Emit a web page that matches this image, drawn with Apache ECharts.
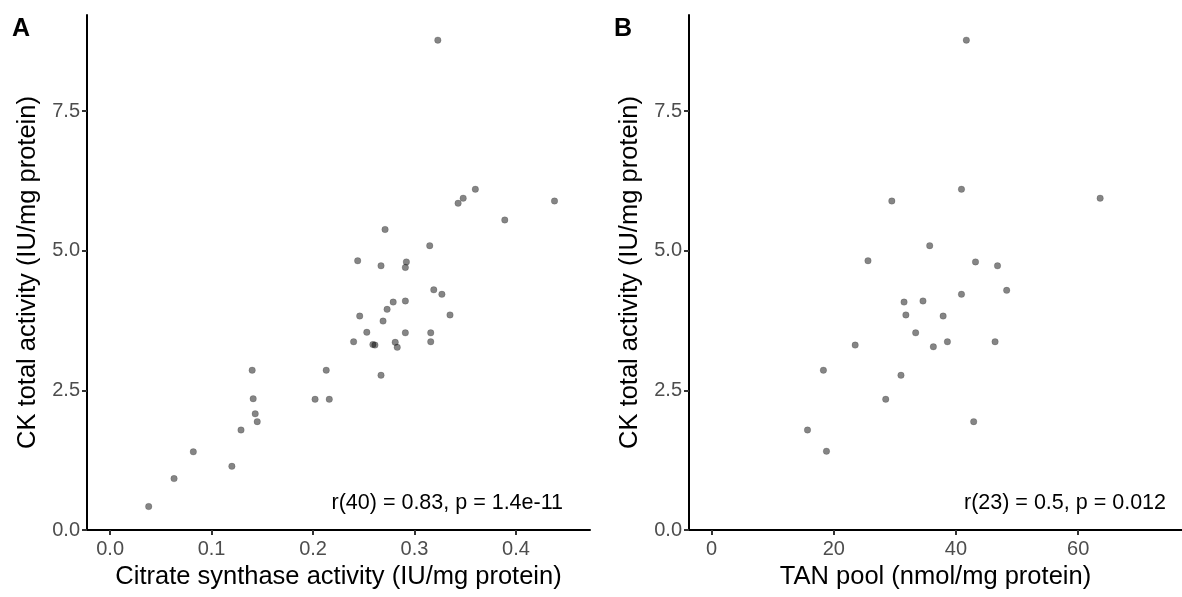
<!DOCTYPE html>
<html><head><meta charset="utf-8">
<script src="https://cdn.jsdelivr.net/npm/echarts@6/dist/echarts.min.js"></script>
<style>html,body{margin:0;padding:0;background:#fff}#c{width:1182px;height:597px}</style>
</head><body><div id="c"></div>
<script>
// Panel A: citrate synthase activity vs CK total activity
const csActivity = [0.038,0.063,0.082,0.120,0.129,0.140,0.141,0.143,0.145,0.202,0.213,0.216,0.267,0.360,0.348,0.343,0.438,0.389,0.271,0.315,0.244,0.267,0.292,0.291,0.319,0.327,0.279,0.291,0.273,0.246,0.335,0.269,0.253,0.291,0.316,0.240,0.259,0.261,0.281,0.283,0.316,0.323];
const ckA = [0.42,0.92,1.40,1.14,1.79,2.86,2.35,2.08,1.94,2.34,2.86,2.34,2.77,6.10,5.94,5.85,5.89,5.55,5.38,5.09,4.82,4.73,4.80,4.70,4.30,4.22,4.08,4.10,3.95,3.83,3.85,3.74,3.54,3.53,3.53,3.37,3.32,3.31,3.36,3.27,3.37,8.77];
// Panel B: TAN pool vs CK total activity
const tanPool = [41.7,40.9,29.5,63.6,35.7,25.6,43.2,46.8,48.3,40.9,31.5,34.6,31.8,37.9,33.4,23.5,36.3,38.6,46.4,18.3,31.0,28.5,42.9,15.7,18.8];
const ckB = [8.77,6.10,5.89,5.94,5.09,4.82,4.80,4.73,4.29,4.22,4.08,4.10,3.85,3.83,3.53,3.31,3.28,3.37,3.37,2.86,2.77,2.34,1.94,1.79,1.41];
// tick labels
const xTicksA = [0, 0.1, 0.2, 0.3, 0.4];
const xTicksB = [0, 20, 40, 60];
const yTicks = [0, 2.5, 5, 7.5];
const statA = 'r(40) = 0.83, p = 1.4e-11';
const statB = 'r(23) = 0.5, p = 0.012';

const FONT = '"Liberation Sans", Arial, Helvetica, sans-serif';
const chart = echarts.init(document.getElementById('c'), null, {renderer: 'canvas'});

function xAxisCfg(idx, min, max, ticks, name, fmt) {
  return {
    type: 'value', gridIndex: idx, min: min, max: max,
    name: name, nameLocation: 'middle', nameGap: 34,
    nameTextStyle: {color: '#000', fontSize: 25.5, fontFamily: FONT},
    axisLine: {show: true, onZero: false, lineStyle: {color: '#000', width: 2}},
    axisTick: {show: true, length: 5, customValues: ticks, lineStyle: {color: '#333', width: 2}},
    axisLabel: {customValues: ticks, color: '#4D4D4D', fontSize: 20, fontFamily: FONT, margin: 9, formatter: fmt},
    splitLine: {show: false}
  };
}
function yAxisCfg(idx) {
  return {
    type: 'value', gridIndex: idx, min: 0, max: 9.22,
    name: 'CK total activity (IU/mg protein)', nameLocation: 'middle', nameGap: 46,
    nameTextStyle: {color: '#000', fontSize: 25.5, fontFamily: FONT},
    axisLine: {show: true, onZero: false, lineStyle: {color: '#000', width: 2}},
    axisTick: {show: true, length: 5, customValues: yTicks, lineStyle: {color: '#333', width: 2}},
    axisLabel: {customValues: yTicks, color: '#4D4D4D', fontSize: 20, fontFamily: FONT, margin: 7,
      formatter: v => Number(v).toFixed(1)},
    splitLine: {show: false}
  };
}

const pointStyle = {color: 'rgba(0,0,0,0.6)', borderColor: 'rgba(0,0,0,0.25)', borderWidth: 0.8};

chart.setOption({
  animation: false,
  backgroundColor: '#fff',
  grid: [
    {left: 87, top: 15, width: 503, height: 515, containLabel: false},
    {left: 689, top: 15, width: 493, height: 515, containLabel: false}
  ],
  xAxis: [
    xAxisCfg(0, -0.0228, 0.473, xTicksA, 'Citrate synthase activity (IU/mg protein)', v => Number(v).toFixed(1)),
    xAxisCfg(1, -3.7, 77, xTicksB, 'TAN pool (nmol/mg protein)', v => String(Math.round(v)))
  ],
  yAxis: [yAxisCfg(0), yAxisCfg(1)],
  series: [
    {type: 'scatter', xAxisIndex: 0, yAxisIndex: 0, symbolSize: 6.5,
     itemStyle: pointStyle,
     data: csActivity.map((x, i) => [x, ckA[i]])},
    {type: 'scatter', xAxisIndex: 1, yAxisIndex: 1, symbolSize: 6.5,
     itemStyle: pointStyle,
     data: tanPool.map((x, i) => [x, ckB[i]])}
  ],
  graphic: [
    {type: 'text', left: 12, top: 17, style: {text: 'A', font: 'bold 25px ' + FONT, fill: '#000'}},
    {type: 'text', left: 614, top: 17, style: {text: 'B', font: 'bold 25px ' + FONT, fill: '#000'}},
    {type: 'text', right: 1182 - 563, top: 492, style: {text: statA, font: '21.5px ' + FONT, fill: '#000'}},
    {type: 'text', right: 1182 - 1166, top: 492, style: {text: statB, font: '21.5px ' + FONT, fill: '#000'}}
  ]
});
</script>
</body></html>
